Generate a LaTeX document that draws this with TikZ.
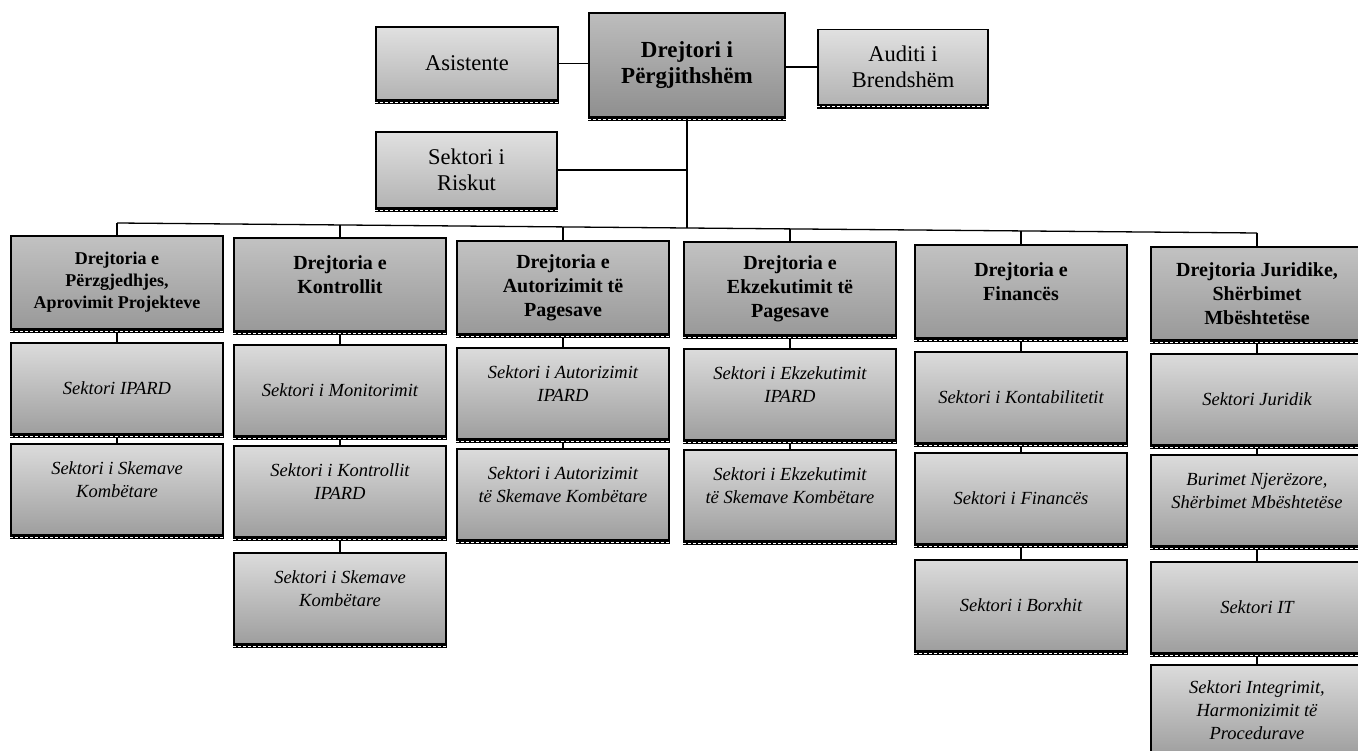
\documentclass[tikz,border=0pt]{standalone}
\usepackage{fontspec}
\setmainfont{Liberation Serif}
\begin{document}
\begin{tikzpicture}[x=1pt,y=-1pt,
  every node/.style={inner sep=2pt, align=center},
  basebox/.style={draw=black, line width=1.3pt},
  topbox/.style={basebox, top color=black!12, bottom color=black!30, font=\fontsize{22.5}{26}\selectfont},
  chiefbox/.style={basebox, top color=black!26, bottom color=black!44, font=\bfseries\fontsize{23}{26}\selectfont},
  dirbox/.style={basebox, top color=black!24, bottom color=black!40, minimum width=212pt, minimum height=93pt, font=\bfseries\fontsize{20}{24}\selectfont},
  secbox/.style={basebox, top color=black!14, bottom color=black!38, minimum width=212pt, minimum height=91pt, font=\itshape\fontsize{18.5}{23}\selectfont},
  link/.style={draw=black, line width=1.3pt},
  shadowblk/.style={line width=3.2pt, black},
  shadowwht/.style={line width=0.9pt, white, dash pattern=on 3pt off 2pt}
]
\useasboundingbox (0,0) rectangle (1358,751);

% top row
\node[topbox, minimum width=182pt, minimum height=73pt] (asist) at (467,63.5) {Asistente};
\node[chiefbox, minimum width=196pt, minimum height=104pt] (dg) at (687,65) {Drejtori i\\Përgjithshëm};
\node[topbox, minimum width=170pt, minimum height=75pt] (audit) at (903,67) {Auditi i\\Brendshëm};
\node[topbox, minimum width=181pt, minimum height=76pt] (risk) at (466.5,170) {Sektori i\\Riskut};

% directorates
\node[dirbox, font=\bfseries\fontsize{18}{22}\selectfont] (d1) at (117,282.5) {Drejtoria e\\Përzgjedhjes,\\Aprovimit Projekteve};
\node[dirbox] (d2) at (340,284.5) {Drejtoria e\\Kontrollit\\[-4pt]};
\node[dirbox] (d3) at (563,287.5) {Drejtoria e\\Autorizimit të\\Pagesave};
\node[dirbox] (d4) at (790,288.5) {Drejtoria e\\Ekzekutimit të\\Pagesave};
\node[dirbox] (d5) at (1021,291.5) {Drejtoria e\\Financës\\[-4pt]};
\node[dirbox] (d6) at (1257,293.5) {Drejtoria Juridike,\\Shërbimet\\Mbështetëse};

% sectors
\node[secbox] (s11) at (117,388.5) {Sektori IPARD};
\node[secbox] (s12) at (117,489.5) {Sektori i Skemave\\Kombëtare\\[-4pt]};
\node[secbox] (s21) at (340,390.5) {Sektori i Monitorimit};
\node[secbox] (s22) at (340,491.5) {Sektori i Kontrollit\\IPARD\\[-4pt]};
\node[secbox] (s23) at (340,598.5) {Sektori i Skemave\\Kombëtare\\[-4pt]};
\node[secbox] (s31) at (563,393.5) {Sektori i Autorizimit\\IPARD\\[-4pt]};
\node[secbox] (s32) at (563,494.5) {Sektori i Autorizimit\\të Skemave Kombëtare\\[-4pt]};
\node[secbox] (s41) at (790,394.5) {Sektori i Ekzekutimit\\IPARD\\[-4pt]};
\node[secbox] (s42) at (790,495.5) {Sektori i Ekzekutimit\\të Skemave Kombëtare\\[-4pt]};
\node[secbox] (s51) at (1021,397.5) {Sektori i Kontabilitetit};
\node[secbox] (s52) at (1021,498.5) {Sektori i Financës};
\node[secbox] (s53) at (1021,605.5) {Sektori i Borxhit};
\node[secbox] (s61) at (1257,399.5) {Sektori Juridik};
\node[secbox] (s62) at (1257,500.5) {Burimet Njerëzore,\\Shërbimet Mbështetëse\\[-4pt]};
\node[secbox] (s63) at (1257,607.5) {Sektori IT};
\node[secbox] (s64) at (1257,710.5) {Sektori Integrimit,\\Harmonizimit të\\Procedurave};

% bottom shadow edges
\foreach \n in {asist,dg,audit,risk,d1,d2,d3,d4,d5,d6,s11,s12,s21,s22,s23,s31,s32,s41,s42,s51,s52,s53,s61,s62,s63,s64}{
  \draw[shadowblk] ([yshift=-1.8pt]\n.south west) -- ([yshift=-1.8pt]\n.south east);
  \draw[shadowwht] ([yshift=-1.8pt]\n.south west) -- ([yshift=-1.8pt]\n.south east);
}

% bus coordinates
\coordinate (b1) at (117,223);
\coordinate (b2) at (340,225);
\coordinate (b3) at (563,227);
\coordinate (bdg) at (687,228);
\coordinate (b4) at (790,229);
\coordinate (b5) at (1021,231);
\coordinate (b6) at (1257,233);
\coordinate (rj) at (687,170);

% connectors
\draw[link] (asist.east) -- (asist.east -| dg.west);
\draw[link] (dg.east |- audit.west) -- (audit.west);
\draw[link] (dg.south) -- (bdg);
\draw[link] (risk.east) -- (rj);
\draw[link] (b1) -- (b6);
\foreach \b/\d in {b1/d1,b2/d2,b3/d3,b4/d4,b5/d5,b6/d6}{
  \draw[link] (\b) -- (\d.north);
}
\foreach \a/\c in {d1/s11,s11/s12,d2/s21,s21/s22,s22/s23,d3/s31,s31/s32,d4/s41,s41/s42,d5/s51,s51/s52,s52/s53,d6/s61,s61/s62,s62/s63,s63/s64}{
  \draw[link] ([yshift=-3.5pt]\a.south) -- (\c.north);
}
\end{tikzpicture}
\end{document}
